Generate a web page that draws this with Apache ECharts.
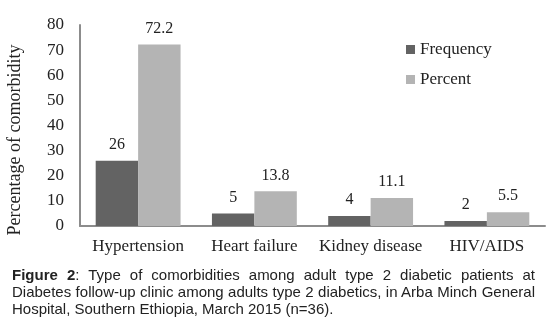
<!DOCTYPE html>
<html>
<head>
<meta charset="utf-8">
<script src="https://cdn.jsdelivr.net/npm/echarts@6/dist/echarts.min.js"></script>
<style>
  html, body { margin: 0; padding: 0; background: #fff; }
  #wrap { position: relative; width: 550px; height: 325px; }
  #chart { position: absolute; left: 0; top: 0; width: 550px; height: 325px; }
  #caption {
    position: absolute; left: 12px; top: 266px; width: 523px;
    font-family: 'Liberation Sans', Arial, sans-serif; font-size: 15px;
    line-height: 17px; color: #222; text-align: justify;
  }
</style>
</head>
<body>
<div id="wrap">
  <div id="chart"></div>
  <div id="caption"><b>Figure 2</b>: Type of comorbidities among adult type 2 diabetic patients at Diabetes follow-up clinic among adults type 2 diabetics, in Arba Minch General Hospital, Southern Ethiopia, March 2015 (n=36).</div>
</div>
<script>
const categories = ['Hypertension', 'Heart failure', 'Kidney disease', 'HIV/AIDS']
const frequency = [26, 5, 4, 2]
const percent = [72.2, 13.8, 11.1, 5.5]

const serif = "'Liberation Serif', 'Times New Roman', serif"

const chart = echarts.init(document.getElementById('chart'))

const labelStyle = {
  show: true,
  position: 'top',
  distance: 8,
  color: '#222',
  fontFamily: serif,
  fontSize: 16
}

chart.setOption({
  animation: false,
  grid: {
    left: 80,
    right: 5,
    top: 25,
    bottom: 99
  },
  legend: {
    orient: 'vertical',
    left: 401,
    top: 36,
    itemWidth: 9,
    itemHeight: 9,
    itemGap: 13,
    icon: 'rect',
    textStyle: {
      color: '#222',
      fontFamily: serif,
      fontSize: 17
    },
    data: ['Frequency', 'Percent']
  },
  xAxis: {
    type: 'category',
    data: categories,
    axisLine: {
      lineStyle: { color: '#8c8c8c', width: 2 }
    },
    axisTick: { show: false },
    axisLabel: {
      interval: 0,
      color: '#222',
      fontFamily: serif,
      fontSize: 17,
      margin: 12
    }
  },
  yAxis: {
    type: 'value',
    min: 0,
    max: 80,
    interval: 10,
    axisLine: {
      show: true,
      lineStyle: { color: '#8c8c8c', width: 2 }
    },
    axisTick: { show: false },
    splitLine: { show: false },
    axisLabel: {
      color: '#222',
      fontFamily: serif,
      fontSize: 17,
      margin: 16
    }
  },
  graphic: [
    {
      type: 'text',
      x: 15,
      y: 140,
      rotation: Math.PI / 2,
      style: {
        text: 'Percentage of comorbidity',
        fill: '#222',
        font: '18px ' + serif,
        align: 'center',
        verticalAlign: 'middle'
      }
    }
  ],
  series: [
    {
      name: 'Frequency',
      type: 'bar',
      data: frequency,
      barGap: '0%',
      barCategoryGap: '27%',
      itemStyle: { color: '#636363' },
      label: labelStyle
    },
    {
      name: 'Percent',
      type: 'bar',
      data: percent,
      itemStyle: { color: '#b4b4b4' },
      label: labelStyle
    }
  ]
})

window.addEventListener('resize', () => {
  chart.resize()
})
</script>
</body>
</html>
